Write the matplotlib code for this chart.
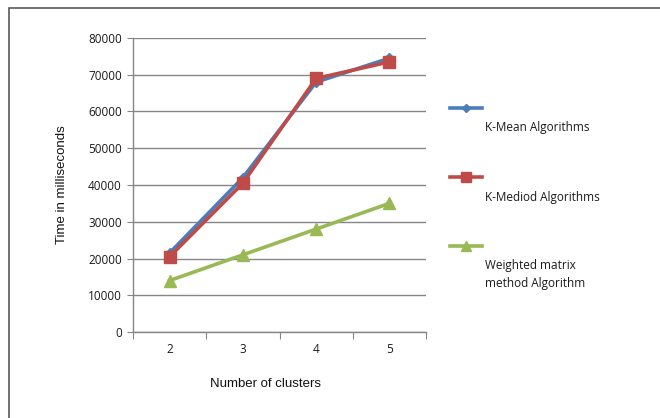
import matplotlib
matplotlib.use("Agg")
import matplotlib.pyplot as plt
from matplotlib.lines import Line2D
from matplotlib.patches import Rectangle

# data
clusters = ["2", "3", "4", "5"]
kmean = [21500, 42000, 68000, 74500]
kmediod = [20500, 40500, 69000, 73500]
weighted = [14000, 21000, 28000, 35000]

series_names = ["K-Mean Algorithms", "K-Mediod Algorithms", "Weighted matrix\nmethod Algorithm"]
colors = ["#4a7ebb", "#be4b48", "#98b954"]
markers = ["D", "s", "^"]
msizes = [5, 8, 8]
leg_msizes = [4, 6.5, 6.5]

W, H = 660, 418
fig = plt.figure(figsize=(W / 100, H / 100), dpi=100)
fig.patch.set_facecolor("white")

# outer chart frame (runs off the right/bottom edge)
fig.patches.append(Rectangle((9 / W, -0.1), 1.2, (H - 8) / H + 0.1,
                             transform=fig.transFigure, fill=False,
                             edgecolor="#595959", linewidth=1.2))

# plot area in pixels: left 133, right 426, top 38, bottom 332
ax = fig.add_axes([133 / W, 1 - 332 / H, (426 - 133) / W, (332 - 38) / H])

xs = [i + 0.5 for i in range(len(clusters))]
for vals, c, m, ms in zip([kmean, kmediod, weighted], colors, markers, msizes):
    ax.plot(xs, vals, color=c, linewidth=2.6, marker=m, markersize=ms,
            markerfacecolor=c, markeredgecolor=c, zorder=3)

ax.set_xlim(0, len(clusters))
ax.set_ylim(0, 80000)
ax.set_yticks(range(0, 80001, 10000))
ax.set_xticks(range(len(clusters) + 1))
ax.set_xticklabels([])
ax.set_xticks(xs, minor=True)
ax.set_xticklabels(clusters, minor=True)
ax.tick_params(axis="x", which="minor", length=0, pad=8)
ax.tick_params(axis="x", which="major", length=5, color="#868686", direction="out")
ax.tick_params(axis="y", length=4, color="#868686", direction="out", pad=4)

tick_font = {"family": ["Open Sans", "DejaVu Sans"], "size": 8.5, "color": "#1a1a1a"}
for lab in ax.get_yticklabels() + ax.get_xticklabels(minor=True):
    lab.set_fontfamily(tick_font["family"])
    lab.set_fontsize(tick_font["size"])
    lab.set_color(tick_font["color"])

ax.grid(axis="y", color="#868686", linewidth=1)
ax.set_axisbelow(True)
for side in ["top", "right"]:
    ax.spines[side].set_visible(False)
for side in ["left", "bottom"]:
    ax.spines[side].set_color("#868686")
    ax.spines[side].set_linewidth(1)

fig.text(62 / W, 1 - 185 / H, "Time in milliseconds", rotation=90,
         ha="center", va="center", fontsize=9.5, color="#111111",
         family=["Liberation Sans", "DejaVu Sans"])
fig.text(265 / W, 1 - 384 / H, "Number of clusters", ha="center", va="center",
         fontsize=9.5, color="#111111", family=["Liberation Sans", "DejaVu Sans"])

# legend: sample line above the text, as in the original
leg_y = [108, 177, 246]
txt_y = [128, 197, 275]
for name, c, m, ms, ly, ty in zip(series_names, colors, markers, leg_msizes, leg_y, txt_y):
    fig.lines.append(Line2D([450 / W, 482 / W], [1 - ly / H, 1 - ly / H],
                            transform=fig.transFigure, color=c, linewidth=2.6))
    fig.lines.append(Line2D([466 / W], [1 - ly / H], transform=fig.transFigure,
                            color=c, marker=m, markersize=ms, linestyle="none"))
    fig.text(485 / W, 1 - ty / H, name, ha="left", va="center", fontsize=8.5,
             color="#1a1a1a", linespacing=1.5, family=["Open Sans", "DejaVu Sans"])

fig.savefig("out.png", dpi=100)
